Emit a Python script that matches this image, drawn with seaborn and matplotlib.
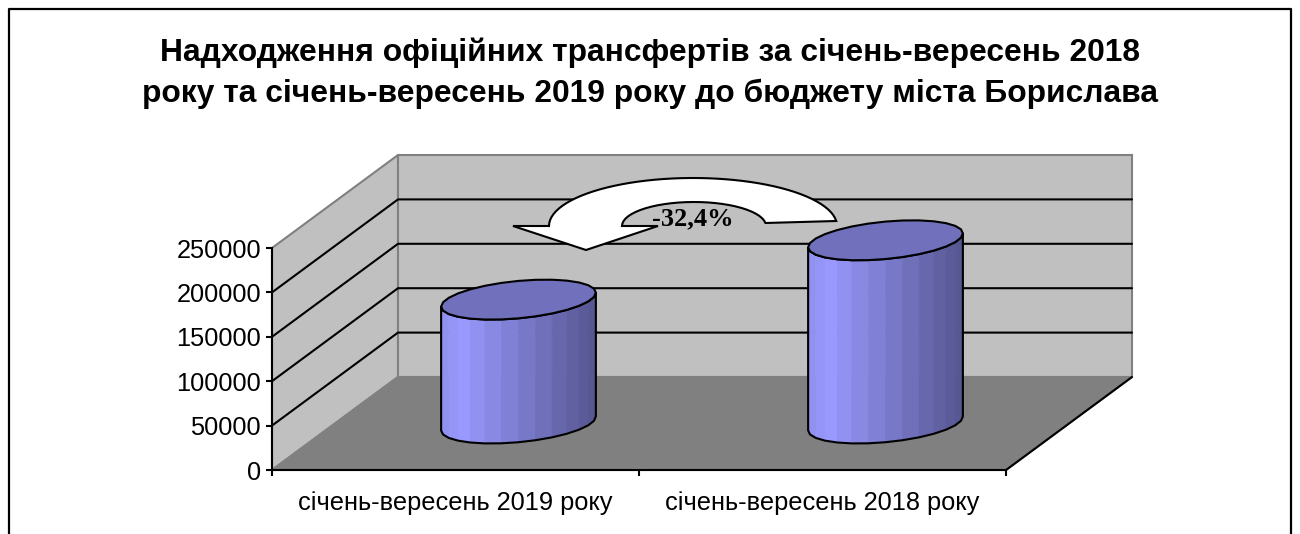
import numpy as np
import pandas as pd
import matplotlib
matplotlib.use('Agg')
import matplotlib.pyplot as plt
import seaborn as sns
from matplotlib.colors import to_rgb
from matplotlib.lines import Line2D
from matplotlib.patches import Polygon
from matplotlib.transforms import Affine2D

# Chart data
categories = ['січень-вересень 2019 року', 'січень-вересень 2018 року']
values = [139500, 206300]
value_ticks = [0, 50000, 100000, 150000, 200000, 250000]
title = ('Надходження офіційних трансфертів за січень-вересень 2018\n'
         'року та січень-вересень 2019 року до бюджету міста Борислава')
change_label = '-32,4%'

W, H = 1300, 534

# Oblique depth of the 3D box, in data units (1 category = 367 px, 250000 = 222 px)
DEPTH_X = 126 / 367
DEPTH_Y = 93 / 222 * 250000
CYL_DEPTH = 0.215

sns.set_theme(style='white')
plt.rcParams['font.family'] = ['Liberation Sans', 'DejaVu Sans']


def project(x, y, depth):
    """Category/value/depth to the axes data coordinates"""
    return x + depth * DEPTH_X, y + depth * DEPTH_Y


def wall(ax, corners, color, zorder=1):
    pts = [project(*c) for c in corners]
    ax.add_patch(Polygon(pts, closed=True, facecolor=color, edgecolor='#808080',
                         linewidth=1.5, clip_on=False, zorder=zorder))


def draw_cylinder(ax, center, half_width, value, zorder):
    light = np.array(to_rgb('#9999FF'))
    dark = np.array(to_rgb('#55558F'))
    b = CYL_DEPTH * DEPTH_X
    t0 = np.arctan2(b, half_width)
    n = 14

    def ring(t, y):
        xs = center + half_width * np.cos(t)
        ds = 0.5 + CYL_DEPTH * np.sin(t)
        return project(xs, y, ds)

    # front half of the body, from the left silhouette to the right one
    front = np.linspace(t0 + np.pi, t0 + 2 * np.pi, n + 1)
    xb, yb = ring(front, 0)
    xt, yt = ring(front, value)
    span = xb[-1] - xb[0]
    for i in range(n):
        s = ((xb[i] + xb[i + 1]) / 2 - xb[0]) / span
        mix = max(0.0, (s - 0.13) / 0.87)
        color = light * (1 - mix) + dark * mix
        if s < 0.13:
            color = light * (0.93 + 0.07 * s / 0.13)
        quad = [(xb[i], yb[i]), (xb[i + 1], yb[i + 1]), (xt[i + 1], yt[i + 1]), (xt[i], yt[i])]
        ax.add_patch(Polygon(quad, closed=True, facecolor=color, edgecolor=color,
                             linewidth=0.4, clip_on=False, zorder=zorder))

    # outline of the body
    outline = list(zip(xb, yb)) + list(zip(xt[::-1], yt[::-1]))
    ax.add_patch(Polygon(outline, closed=True, fill=False, edgecolor='black',
                         linewidth=1.5, clip_on=False, zorder=zorder + 0.1))

    # top face
    t = t0 + np.linspace(0, 2 * np.pi, 2 * n + 1)[:-1]
    xc, yc = ring(t, value)
    ax.add_patch(Polygon(list(zip(xc, yc)), closed=True, facecolor='#7070BC', edgecolor='black',
                         linewidth=1.5, clip_on=False, zorder=zorder + 0.2))


fig = plt.figure(figsize=(W / 100, H / 100), dpi=100, facecolor='white')
ax = fig.add_axes([272 / W, (H - 470) / H, 734 / W, 222 / H])
ax.patch.set_alpha(0)

df = pd.DataFrame({'period': categories, 'amount': values})
sns.barplot(data=df, x='period', y='amount', width=0.395, ax=ax)
bars = list(ax.patches)
ax.set_xlim(-0.5, 1.5)
ax.set_ylim(0, 250000)
ax.set_xlabel('')
ax.set_ylabel('')

# Box walls and floor
lo, hi = value_ticks[0], value_ticks[-1]
wall(ax, [(-0.5, lo, 0), (-0.5, hi, 0), (-0.5, hi, 1), (-0.5, lo, 1)], '#C0C0C0')
wall(ax, [(-0.5, lo, 1), (-0.5, hi, 1), (1.5, hi, 1), (1.5, lo, 1)], '#C0C0C0')
wall(ax, [(-0.5, lo, 0), (-0.5, lo, 1), (1.5, lo, 1), (1.5, lo, 0)], '#808080', zorder=1.1)

for v in value_ticks[1:-1]:
    pts = [project(-0.5, v, 0), project(-0.5, v, 1), project(1.5, v, 1)]
    ax.plot(*zip(*pts), color='black', lw=1.5, clip_on=False, zorder=1.5, solid_joinstyle='miter')

# right edge of the floor
pts = [project(1.5, lo, 0), project(1.5, lo, 1)]
ax.plot(*zip(*pts), color='black', lw=1.5, clip_on=False, zorder=1.5)

# Cylinders take their place and size from the seaborn bars
for bar in bars:
    bar.set_visible(False)
    draw_cylinder(ax, bar.get_x() + bar.get_width() / 2, bar.get_width() / 2, bar.get_height(), 3)

# Axes
sns.despine(ax=ax)
for side in ['left', 'bottom']:
    ax.spines[side].set_color('black')
    ax.spines[side].set_linewidth(1.5)
    ax.spines[side].set_zorder(2)
ax.set_yticks(value_ticks)
ax.set_yticklabels([str(v) for v in value_ticks])
ax.set_xticks([-0.5, 0.5, 1.5])
ax.set_xticklabels([])
ax.set_xticks([0, 1], minor=True)
ax.set_xticklabels(categories, minor=True)
ax.tick_params(axis='both', which='major', length=4, width=1.5, color='black', left=True, bottom=True)
ax.tick_params(axis='y', labelsize=18.3, labelcolor='black', pad=4)
ax.tick_params(axis='x', which='minor', length=0, labelsize=18.3, labelcolor='black', pad=15)

# Curved change arrow, placed in pixels of the picture
px = Affine2D().scale(1 / W, -1 / H).translate(0, 1) + fig.transFigure
t_out = np.linspace(np.pi, np.arcsin(5 / 48), 50)
t_in = np.linspace(np.arcsin(3 / 24), np.pi, 30)
outer = np.column_stack([693 + 144 * np.cos(t_out), 226 - 48 * np.sin(t_out)])
inner = np.column_stack([694 + 72 * np.cos(t_in), 226 - 24 * np.sin(t_in)])
arrow = np.vstack([[[586, 250], [513, 226], [550, 226]], outer, inner, [[658, 226]]])
fig.add_artist(Polygon(arrow, closed=True, facecolor='white', edgecolor='black',
                       linewidth=1.5, transform=px, zorder=6))
fig.text(693 / W, 1 - 218.5 / H, change_label, family=['Liberation Serif'], weight='bold',
         fontsize=19, color='black', ha='center', va='center', zorder=7)

# Title and outer frame
fig.text(650 / W, 1 - 73 / H, title, fontsize=22.9, weight='bold', color='black',
         ha='center', va='center', linespacing=1.45)
frame_x = [8.5 / W, 8.5 / W, 1291 / W, 1291 / W]
frame_y = [0, 1 - 9 / H, 1 - 9 / H, 0]
fig.add_artist(Line2D(frame_x, frame_y, color='black', lw=1.6, transform=fig.transFigure))

fig.savefig('out.png', dpi=100)
